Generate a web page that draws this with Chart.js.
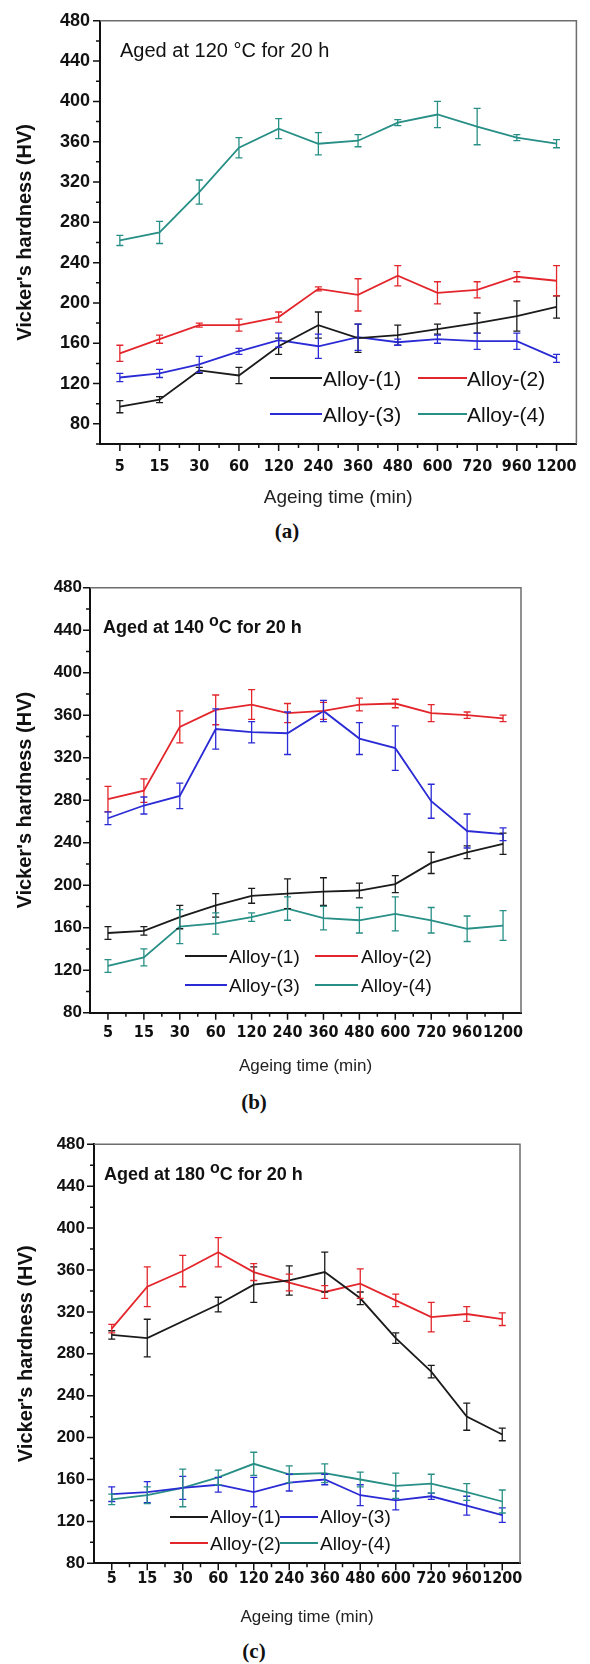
<!DOCTYPE html>
<html>
<head>
<meta charset="utf-8">
<script src="https://cdn.jsdelivr.net/npm/chart.js@4.4.1/dist/chart.umd.min.js"></script>
<style>
  html, body { margin: 0; padding: 0; background: #fff; }
  body { width: 590px; height: 1664px; position: relative; overflow: hidden; font-family: 'Liberation Sans', Arial, sans-serif; color: #111; }
  canvas { position: absolute; left: 0; }
  .note { position: absolute; white-space: nowrap; line-height: 1; }
  .note sup { line-height: 0; }
  .cap { position: absolute; line-height: 1; font-family: 'Liberation Serif', 'Times New Roman', serif; font-weight: bold; font-size: 21px; transform: translate(-50%, -50%); }
  .legline { position: absolute; height: 2px; }
  .legtext { position: absolute; white-space: nowrap; line-height: 1; }
</style>
</head>
<body>
<canvas id="chartA" width="590" height="512" style="top:0px"></canvas>
<canvas id="chartB" width="590" height="520" style="top:560px"></canvas>
<canvas id="chartC" width="590" height="512" style="top:1120px"></canvas>

<div class="note" style="left:120px;top:40px;font-size:20px">Aged at 120 °C for 20 h</div>
<div class="note" style="left:103px;top:618px;font-size:18px;font-weight:bold">Aged at 140 <sup style="font-size:16px;vertical-align:7px">o</sup>C for 20 h</div>
<div class="note" style="left:104px;top:1165px;font-size:18px;font-weight:bold">Aged at 180 <sup style="font-size:16px;vertical-align:7px">o</sup>C for 20 h</div>

<div class="cap" style="left:287px;top:531px">(a)</div>
<div class="cap" style="left:254px;top:1102px">(b)</div>
<div class="cap" style="left:254px;top:1651px">(c)</div>

<script>
// ageing time categories (min)
const ageingTimes = ['5', '15', '30', '60', '120', '240', '360', '480', '600', '720', '960', '1200'];
const alloyNames = ['Alloy-(1)', 'Alloy-(2)', 'Alloy-(3)', 'Alloy-(4)'];
const alloyColors = ['#1b1b1b', '#e3262c', '#2b2bd6', '#278f86'];

// (a) aged at 120 C, hardness HV and error
const hv120_1 = [97, 104, 133, 128, 157, 178, 165, 168, 174, 180, 187, 196];
const err120_1 = [6, 3, 3, 8, 8, 13, 14, 10, 5, 10, 15, 11];
const hv120_2 = [150, 164, 178, 178, 186, 214, 208, 227, 210, 213, 226, 222];
const err120_2 = [8, 4, 2, 6, 5, 2, 16, 10, 11, 8, 5, 15];
const hv120_3 = [126, 130, 139, 152, 163, 157, 166, 161, 164, 162, 162, 145];
const err120_3 = [4, 4, 8, 3, 7, 12, 13, 3, 4, 8, 8, 4];
const hv120_4 = [262, 270, 310, 354, 373, 358, 361, 379, 387, 375, 364, 358];
const err120_4 = [5, 11, 12, 10, 10, 11, 6, 3, 13, 18, 3, 4];

// (b) aged at 140 C
const hv140_1 = [155, 157, 170, 181, 190, 192, 194, 195, 201, 221, 231, 239];
const err140_1 = [6, 4, 11, 11, 7, 14, 13, 7, 8, 10, 6, 10];
const hv140_2 = [281, 289, 349, 365, 370, 362, 364, 370, 371, 362, 360, 357];
const err140_2 = [12, 11, 15, 14, 14, 9, 8, 6, 4, 8, 3, 3];
const hv140_3 = [263, 275, 284, 347, 344, 343, 364, 338, 329, 279, 251, 248];
const err140_3 = [6, 8, 12, 19, 10, 20, 10, 15, 21, 16, 16, 6];
const hv140_4 = [124, 132, 161, 164, 170, 178, 169, 167, 173, 167, 159, 162];
const err140_4 = [6, 8, 16, 10, 4, 11, 11, 12, 16, 12, 12, 14];

// (c) aged at 180 C (alloy 1 has no point at 30 min)
const hv180_1 = [298, 295, null, 327, 346, 350, 358, 333, 295, 263, 220, 203];
const err180_1 = [4, 18, 0, 7, 17, 14, 19, 6, 5, 6, 13, 6];
const hv180_2 = [304, 344, 359, 377, 358, 348, 339, 347, 331, 315, 318, 313];
const err180_2 = [4, 19, 15, 14, 8, 8, 6, 14, 6, 14, 7, 6];
const hv180_3 = [146, 148, 152, 155, 148, 157, 160, 145, 140, 144, 135, 126];
const err180_3 = [7, 10, 11, 7, 14, 8, 5, 10, 9, 3, 9, 7];
const hv180_4 = [141, 145, 152, 162, 175, 165, 166, 160, 154, 156, 148, 139];
const err180_4 = [5, 8, 18, 7, 11, 8, 9, 7, 12, 9, 8, 11];

const yMax = 480;

// error bars drawn through the y scale
const errorBarPlugin = {
  id: 'errorBars',
  afterDatasetsDraw(chart) {
    const ctx = chart.ctx, y = chart.scales.y;
    chart.data.datasets.forEach((ds, k) => {
      const meta = chart.getDatasetMeta(k);
      ctx.save();
      ctx.strokeStyle = ds.borderColor;
      ctx.lineWidth = 1.3;
      ctx.beginPath();
      ds.data.forEach((v, i) => {
        const e = ds.errorBars[i];
        if (v == null || !e) return;
        const px = meta.data[i].x;
        const t = y.getPixelForValue(v + e), b = y.getPixelForValue(v - e);
        ctx.moveTo(px, t); ctx.lineTo(px, b);
        ctx.moveTo(px - 3.5, t); ctx.lineTo(px + 3.5, t);
        ctx.moveTo(px - 3.5, b); ctx.lineTo(px + 3.5, b);
      });
      ctx.stroke();
      ctx.restore();
    });
  }
};

// origin-like frame: grey top/right, major + minor tick marks
const framePlugin = {
  id: 'frame',
  afterDraw(chart) {
    const {ctx, chartArea: a} = chart;
    const x = chart.scales.x, y = chart.scales.y;
    ctx.save();
    ctx.strokeStyle = '#6d6d6d';
    ctx.lineWidth = 1.5;
    ctx.beginPath();
    ctx.moveTo(a.left, a.top); ctx.lineTo(a.right, a.top); ctx.lineTo(a.right, a.bottom);
    ctx.stroke();
    ctx.strokeStyle = '#111';
    ctx.lineWidth = 1.5;
    ctx.beginPath();
    y.ticks.forEach(t => {
      const py = y.getPixelForValue(t.value);
      const len = t.value % 40 === 0 ? 7 : 4;
      ctx.moveTo(a.left - len, py); ctx.lineTo(a.left, py);
    });
    const n = x.ticks.length;
    for (let i = 0; i < n; i++) {
      const px = x.getPixelForTick(i);
      ctx.moveTo(px, a.bottom); ctx.lineTo(px, a.bottom + 7);
      if (i < n - 1) {
        const mx = (px + x.getPixelForTick(i + 1)) / 2;
        ctx.moveTo(mx, a.bottom); ctx.lineTo(mx, a.bottom + 4);
      }
    }
    ctx.stroke();
    ctx.restore();
  }
};

function makePanel(p) {
  const chart = new Chart(document.getElementById(p.id), {
    type: 'line',
    data: {
      labels: ageingTimes,
      datasets: p.series.map((s, k) => ({
        label: alloyNames[k],
        data: s[0],
        errorBars: s[1],
        borderColor: alloyColors[k],
        backgroundColor: alloyColors[k],
        borderWidth: 1.8,
        pointRadius: 0,
        tension: 0,
        spanGaps: true
      }))
    },
    options: {
      responsive: false,
      animation: false,
      layout: { padding: p.pad },
      plugins: { legend: { display: false }, tooltip: { enabled: false } },
      scales: {
        x: {
          type: 'category',
          offset: true,
          grid: { display: false, drawTicks: false },
          border: { color: '#111', width: 2 },
          ticks: {
            color: '#111', padding: p.xPad, autoSkip: false, maxRotation: 0, minRotation: 0,
            font: { family: "'Liberation Sans Narrow', 'DejaVu Sans Condensed', 'Liberation Sans', Arial", size: 16, weight: 'bold' }
          },
          title: {
            display: true, text: 'Ageing time (min)', color: '#222',
            font: { size: p.xTitleSize }, padding: { top: 0, bottom: p.xTitlePad }
          },
          afterFit: s => { s.height = p.xAxisH; }
        },
        y: {
          min: p.ymin,
          max: yMax,
          grid: { display: false, drawTicks: false },
          border: { color: '#111', width: 2 },
          ticks: {
            stepSize: 20, autoSkip: false, color: '#111', padding: p.yPad,
            font: { size: p.yTickSize, weight: 'bold' },
            callback: v => (v % 40 === 0 ? v : '')
          },
          title: {
            display: true, text: "Vicker's hardness (HV)", color: '#111',
            font: { size: 20, weight: 'bold' }, padding: { top: p.yTitlePad, bottom: 0 }
          },
          afterFit: s => { s.width = p.yAxisW; }
        }
      }
    },
    plugins: [framePlugin, errorBarPlugin]
  });

  // legend built from the chart's own datasets
  chart.data.datasets.forEach((ds, k) => {
    const slot = p.legend.slots[k];
    const col = p.legend.cols[slot[0]], rowY = p.legend.rows[slot[1]];
    const line = document.createElement('div');
    line.className = 'legline';
    line.style.cssText = `left:${col[0]}px;top:${rowY - 1}px;width:${col[1]}px;background:${ds.borderColor}`;
    const txt = document.createElement('div');
    txt.className = 'legtext';
    txt.textContent = ds.label;
    txt.style.cssText = `left:${col[2]}px;top:${rowY - 0.49 * p.legend.size}px;font-size:${p.legend.size}px`;
    document.body.appendChild(line);
    document.body.appendChild(txt);
  });
  return chart;
}

makePanel({
  id: 'chartA', ymin: 60,
  pad: { top: 20.7, right: 10, left: 0, bottom: 0 },
  yAxisW: 100, xAxisH: 68, xPad: 13, yPad: 10, yTickSize: 18,
  xTitleSize: 19, xTitlePad: 2.6, yTitlePad: 13.5,
  series: [[hv120_1, err120_1], [hv120_2, err120_2], [hv120_3, err120_3], [hv120_4, err120_4]],
  legend: { size: 21, rows: [378, 414], cols: [[270, 52, 323], [418, 49, 467]], slots: [[0, 0], [1, 0], [0, 1], [1, 1]] }
});

makePanel({
  id: 'chartB', ymin: 80,
  pad: { top: 27.7, right: 69, left: 0, bottom: 0 },
  yAxisW: 90, xAxisH: 67.3, xPad: 11, yPad: 8, yTickSize: 17,
  xTitleSize: 17, xTitlePad: 3.1, yTitlePad: 13,
  series: [[hv140_1, err140_1], [hv140_2, err140_2], [hv140_3, err140_3], [hv140_4, err140_4]],
  legend: { size: 19, rows: [956, 985], cols: [[185, 42, 229], [315, 43, 361]], slots: [[0, 0], [1, 0], [0, 1], [1, 1]] }
});

makePanel({
  id: 'chartC', ymin: 80,
  pad: { top: 24.3, right: 70, left: 0, bottom: 0 },
  yAxisW: 94, xAxisH: 68.7, xPad: 6, yPad: 9, yTickSize: 17,
  xTitleSize: 17, xTitlePad: 4.5, yTitlePad: 14.7,
  series: [[hv180_1, err180_1], [hv180_2, err180_2], [hv180_3, err180_3], [hv180_4, err180_4]],
  legend: { size: 19, rows: [1516.7, 1543.3], cols: [[170, 38, 210], [280, 38, 320]], slots: [[0, 0], [0, 1], [1, 0], [1, 1]] }
});
</script>
</body>
</html>
